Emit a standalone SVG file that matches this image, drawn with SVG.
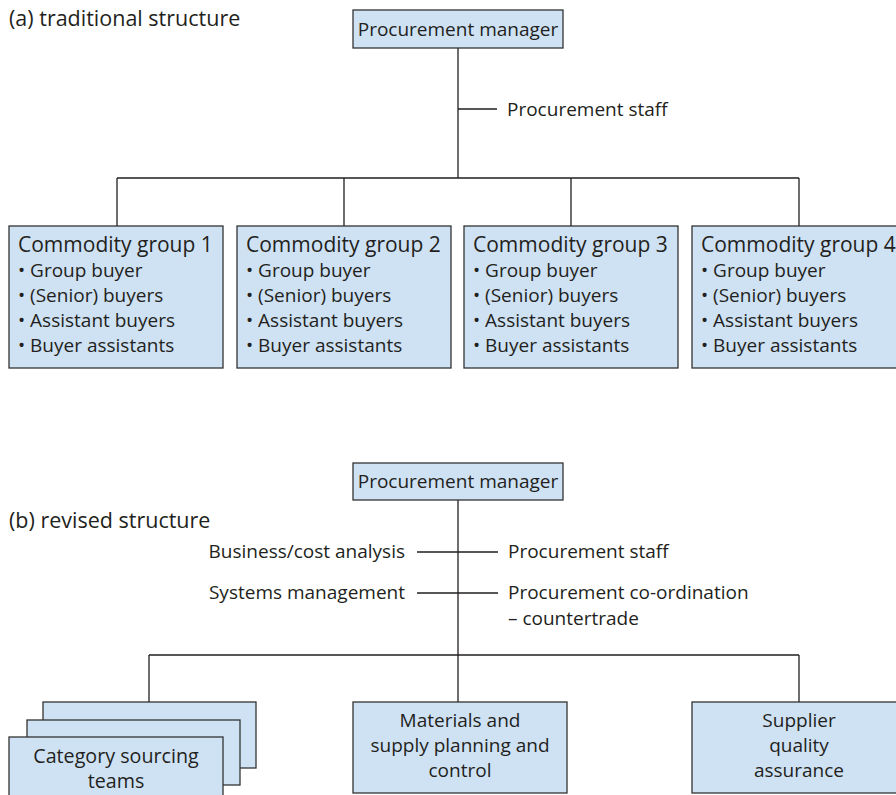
<svg xmlns="http://www.w3.org/2000/svg" width="896" height="795" viewBox="0 0 896 795">
  <style>
    text { font-family: "Open Sans", "Noto Sans", "Liberation Sans", sans-serif; font-size: 19px; fill: #231f20; }
    .title { font-size: 21.5px; }
    .head { font-size: 21px; }
    .box { fill: #cfe2f4; stroke: #333333; stroke-width: 1.3; }
    .ln { fill: none; stroke: #231f20; stroke-width: 1.3; }
    .mid { text-anchor: middle; }
    .end { text-anchor: end; }
  </style>

  <!-- (a) traditional structure -->
  <text x="9" y="26" class="title">(a) traditional structure</text>

  <g id="connectors-a">
    <path class="ln" d="M458 48 V178 M458 109 H497 M117 178 H799 M117 178 V226 M344 178 V226 M571 178 V226 M799 178 V226"/>
  </g>
  <text x="507" y="116">Procurement staff</text>

  <g id="manager-a">
    <rect class="box" x="353" y="10" width="210" height="38"/>
    <text x="458" y="36" class="mid">Procurement manager</text>
  </g>

  <g id="group-1">
    <rect class="box" x="9" y="226" width="214" height="142"/>
    <text x="18" y="252" class="head">Commodity group 1</text>
    <text x="18" y="277">• Group buyer</text>
    <text x="18" y="302">• (Senior) buyers</text>
    <text x="18" y="327">• Assistant buyers</text>
    <text x="18" y="352">• Buyer assistants</text>
  </g>
  <g id="group-2">
    <rect class="box" x="237" y="226" width="214" height="142"/>
    <text x="246" y="252" class="head">Commodity group 2</text>
    <text x="246" y="277">• Group buyer</text>
    <text x="246" y="302">• (Senior) buyers</text>
    <text x="246" y="327">• Assistant buyers</text>
    <text x="246" y="352">• Buyer assistants</text>
  </g>
  <g id="group-3">
    <rect class="box" x="464" y="226" width="214" height="142"/>
    <text x="473" y="252" class="head">Commodity group 3</text>
    <text x="473" y="277">• Group buyer</text>
    <text x="473" y="302">• (Senior) buyers</text>
    <text x="473" y="327">• Assistant buyers</text>
    <text x="473" y="352">• Buyer assistants</text>
  </g>
  <g id="group-4">
    <rect class="box" x="692" y="226" width="214" height="142"/>
    <text x="701" y="252" class="head">Commodity group 4</text>
    <text x="701" y="277">• Group buyer</text>
    <text x="701" y="302">• (Senior) buyers</text>
    <text x="701" y="327">• Assistant buyers</text>
    <text x="701" y="352">• Buyer assistants</text>
  </g>

  <!-- (b) revised structure -->
  <text x="9" y="528" class="title">(b) revised structure</text>

  <g id="connectors-b">
    <path class="ln" d="M458 500 V655 M417 552 H498 M417 593 H498 M149 655 H799 M149 655 V702 M458 655 V702 M799 655 V702"/>
  </g>
  <text x="405" y="558" class="end">Business/cost analysis</text>
  <text x="405" y="599" class="end">Systems management</text>
  <text x="508" y="558">Procurement staff</text>
  <text x="508" y="599">Procurement co-ordination</text>
  <text x="508" y="625">– countertrade</text>

  <g id="manager-b">
    <rect class="box" x="353" y="463" width="210" height="37"/>
    <text x="458" y="488" class="mid">Procurement manager</text>
  </g>

  <g id="category-teams">
    <rect class="box" x="43" y="702" width="213" height="66"/>
    <rect class="box" x="27" y="720" width="213" height="65"/>
    <rect class="box" x="9" y="737" width="214" height="70"/>
    <text x="116" y="763" class="mid" style="font-size:19.7px">Category sourcing</text>
    <text x="116" y="788" class="mid" style="font-size:19.7px">teams</text>
  </g>

  <g id="materials">
    <rect class="box" x="353" y="702" width="214" height="91"/>
    <text x="460" y="727" class="mid">Materials and</text>
    <text x="460" y="752" class="mid">supply planning and</text>
    <text x="460" y="777" class="mid">control</text>
  </g>

  <g id="supplier-quality">
    <rect class="box" x="692" y="702" width="214" height="91"/>
    <text x="799" y="727" class="mid">Supplier</text>
    <text x="799" y="752" class="mid">quality</text>
    <text x="799" y="777" class="mid">assurance</text>
  </g>
</svg>
